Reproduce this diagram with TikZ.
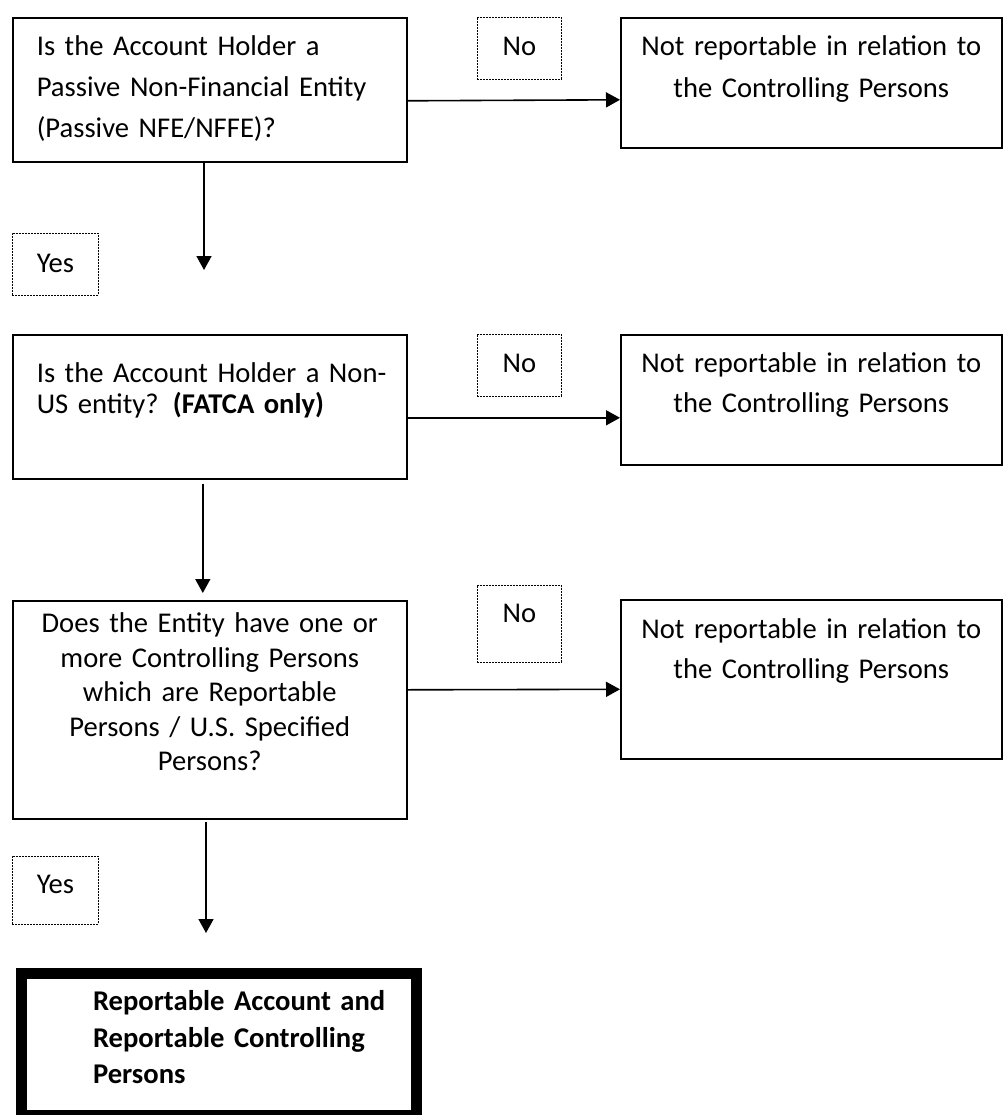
\documentclass[tikz,border=0pt]{standalone}
\usepackage{fontspec}
\setmainfont{Carlito}
\usetikzlibrary{arrows.meta}

\tikzset{
  box/.style={draw, line width=1.6pt, anchor=north west, inner ysep=0pt},
  tag/.style={draw, line width=0.8pt, dash pattern=on 2pt off 1pt, anchor=north west, inner sep=0pt},
  arr/.style={line width=1.6pt, -{Triangle[length=14pt,width=15pt]}}
}

\begin{document}
\begin{tikzpicture}[x=1pt,y=-1pt,font=\fontsize{28.6}{41}\selectfont]
\useasboundingbox (0,0) rectangle (1002,1115);

\node[box, inner xsep=24pt, text width=346pt, align=left, text height=38pt, text depth=106pt] (q1) at (12,17)
  {Is the Account Holder a\\Passive Non-Financial Entity\\(Passive NFE/NFFE)?};
\node[box, inner xsep=24pt, text width=346pt, align=left, text height=48pt, text depth=96pt,
  font=\fontsize{28.6}{31}\selectfont] (q2) at (12,334)
  {\mbox{Is the Account Holder a Non-}\\US entity? \textbf{(FATCA only)}};
\node[box, inner xsep=8pt, text width=378pt, align=center, text height=32pt, text depth=186pt,
  font=\fontsize{28.6}{34.5}\selectfont] (q3) at (12,600)
  {Does the Entity have one or\\more Controlling Persons\\which are Reportable\\Persons / U.S. Specified\\Persons?};

\node[box, inner xsep=8pt, text width=365pt, align=center, text height=38pt, text depth=92pt,
  font=\fontsize{28.6}{42}\selectfont] (n1) at (620,17)
  {Not reportable in relation to\\the Controlling Persons};
\node[box, inner xsep=8pt, text width=365pt, align=center, text height=38pt, text depth=92pt,
  font=\fontsize{28.6}{40}\selectfont] (n2) at (620,334)
  {Not reportable in relation to\\the Controlling Persons};
\node[box, inner xsep=8pt, text width=365pt, align=center, text height=39pt, text depth=120pt,
  font=\fontsize{28.6}{40}\selectfont] (n3) at (620,599)
  {Not reportable in relation to\\the Controlling Persons};

\node[box, line width=11pt, inner xsep=0pt, text width=395pt, align=left, text height=37.5pt, text depth=105pt,
  font=\fontsize{28.6}{36.5}\selectfont\bfseries] (rep) at (15.5,967.5)
  {\hspace*{72pt}\parbox[t]{318pt}{Reportable Account and\\Reportable Controlling\\Persons}};

\node[tag, minimum width=84pt, text height=38pt, text depth=24pt] (no1) at (477,17) {No};
\node[tag, minimum width=84pt, text height=38pt, text depth=24pt] (no2) at (477,334) {No};
\node[tag, minimum width=84pt, text height=37pt, text depth=40pt] (no3) at (477,585) {No};
\node[tag, minimum width=86pt, text height=39pt, text depth=23pt] (yes1) at (12,233) {Yes};
\node[tag, minimum width=86pt, text height=37pt, text depth=31pt] (yes2) at (12,856) {Yes};

\coordinate (y1) at (204,270);
\coordinate (y2) at (206,933);

\draw[arr] (q1.south -| y1) -- (y1);
\draw[arr] ([yshift=-11pt]q1.east) -- ([yshift=-17pt]n1.west);
\draw[arr, shorten <=4pt, shorten >=7pt] ([xshift=-7pt]q2.south) -- ([xshift=-7pt]q3.north);
\draw[arr] ([yshift=-11pt]q2.east) -- ([yshift=-18pt]n2.west);
\draw[arr] ([yshift=20pt]q3.east) -- ([yshift=-10pt]n3.west);
\draw[arr, shorten <=2pt] (q3.south -| y2) -- (y2);
\end{tikzpicture}
\end{document}
